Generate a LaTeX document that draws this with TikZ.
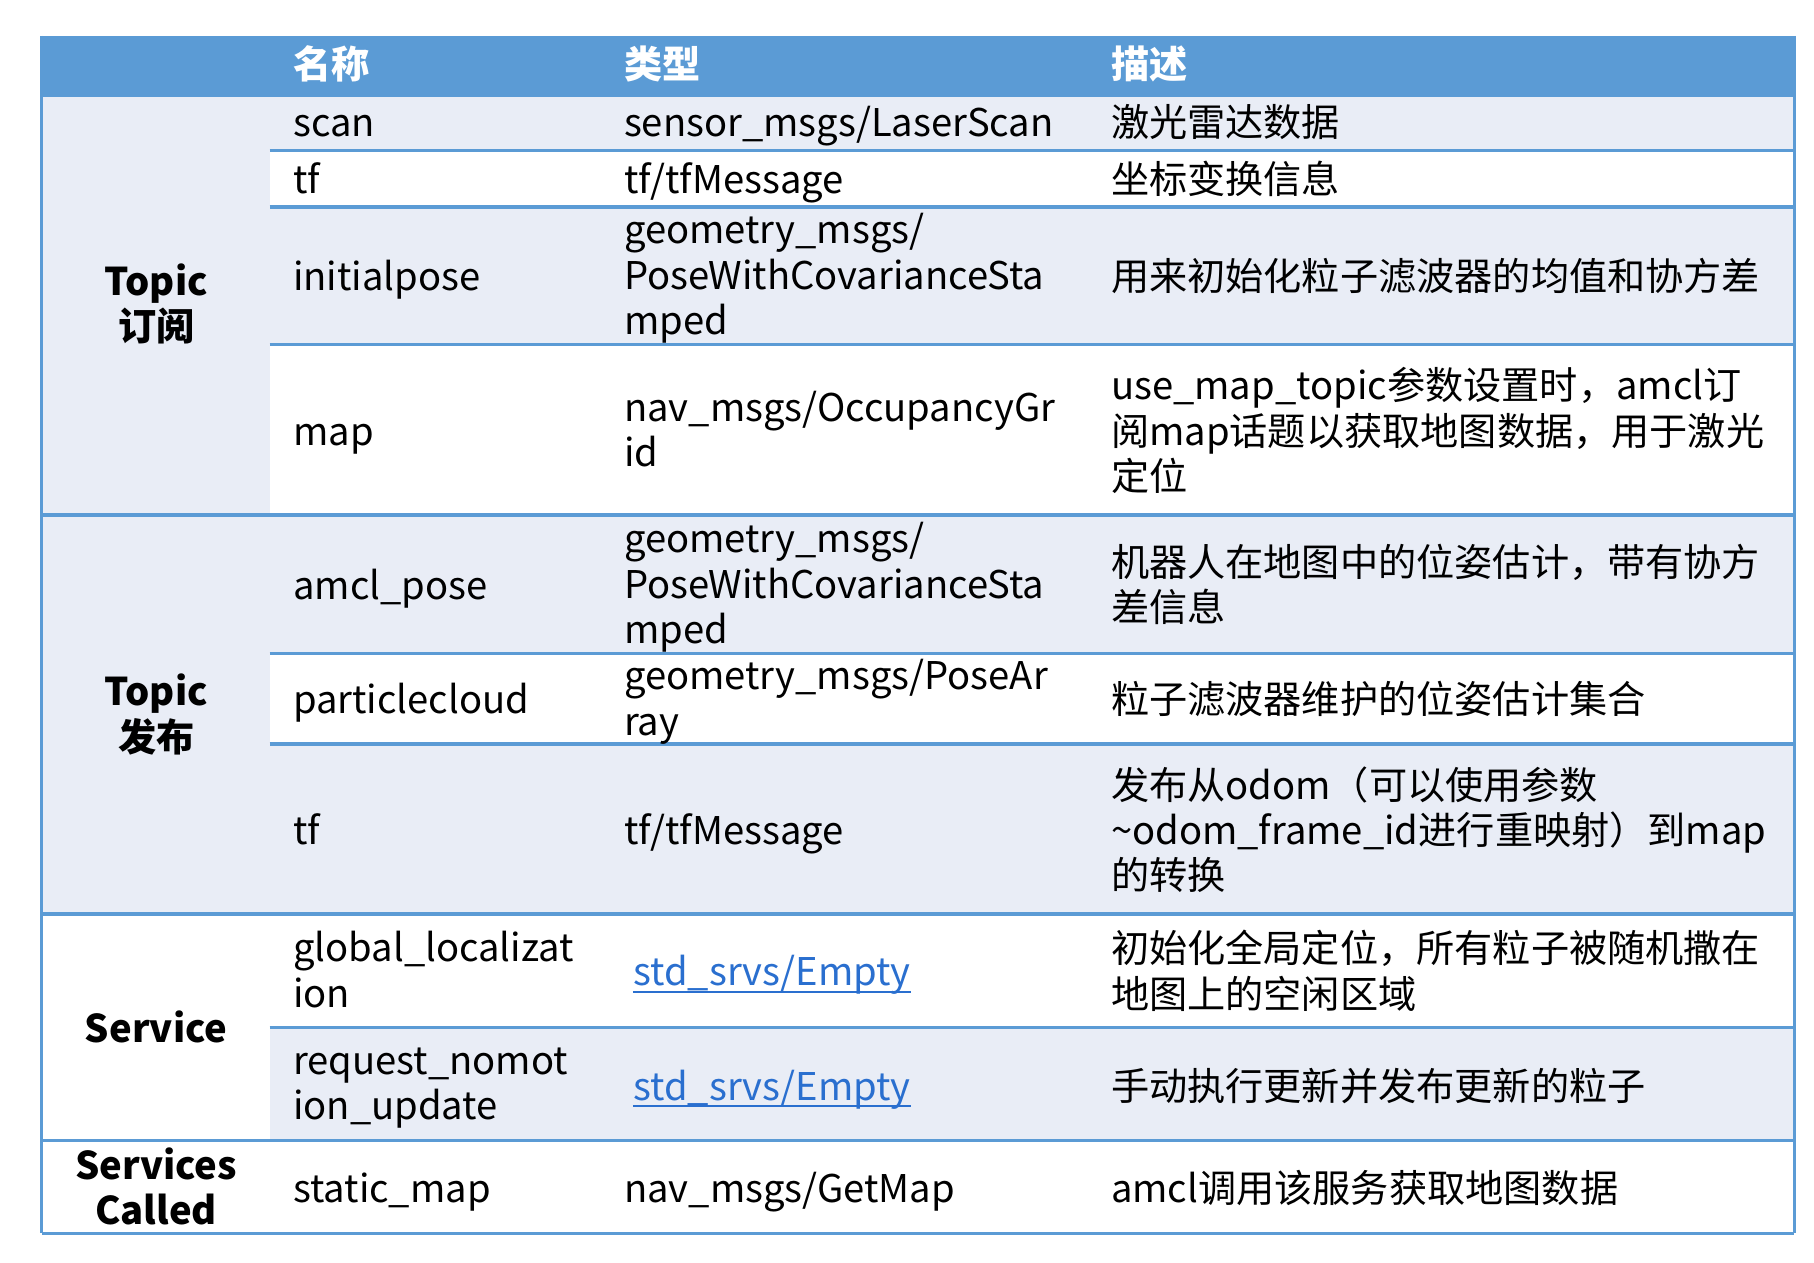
\documentclass[tikz,border=0pt]{standalone}
\usepackage{fontspec}
\setmainfont{Noto Sans CJK SC}
\definecolor{hdrblue}{HTML}{5B9BD5}
\definecolor{lineblue}{HTML}{5B9BD5}
\definecolor{band}{HTML}{E9EDF6}
\definecolor{linkblue}{HTML}{2A6FCF}
\newcommand{\fs}{\fontsize{16.5}{19.6}\selectfont}
\newcommand{\cjkstrut}{\vphantom{国/\_（gy}}
\tikzset{
  cell/.style={anchor=west, inner sep=0pt, align=left, font=\fs, text=black, yshift=-1.5pt,
    execute at begin node=\cjkstrut, execute at end node=\cjkstrut},
  hdr/.style={anchor=west, inner sep=0pt, font=\fs\bfseries, text=white},
  cat/.style={anchor=center, inner sep=0pt, align=center, font=\fs\bfseries, text=black, yshift=-1.5pt,
    execute at begin node=\cjkstrut, execute at end node=\cjkstrut},
  rule/.style={draw=lineblue, line width=1.5pt},
  lnk/.style={cell, text=linkblue},
  uline/.style={draw=linkblue, line width=0.9pt}
}
\begin{document}
\begin{tikzpicture}[x=0.5pt, y=-0.5pt]
\useasboundingbox (0,0) rectangle (1568,1091);
\fill[white] (0,0) rectangle (1568,1091);
% fills
\fill[hdrblue] (36,31) rectangle (1551,82);
\fill[band] (36,82) rectangle (233,790);
\fill[band] (233,82) rectangle (1551,130);
\fill[band] (233,179) rectangle (1551,298);
\fill[band] (233,445) rectangle (1551,565);
\fill[band] (233,643) rectangle (1551,790);
\fill[band] (233,888) rectangle (1551,986);
% inner rules
\foreach \y in {130,179,298,565,643,888}
  \draw[rule] (233,\y) -- (1551,\y);
% group rules
\foreach \y in {82,445,790,986,1066}
  \draw[rule] (36,\y) -- (1551,\y);
\draw[rule] (36,31) -- (36,1066);
\draw[rule] (1551,31) -- (1551,1066);
% header
\node[hdr] (h1) at (253,55) {名称};
\node[hdr] (h2) at (539,55) {类型};
\node[hdr] (h3) at (960,55) {描述};
% categories
\node[cat] (c1) at (135,262) {Topic\\订阅};
\node[cat] (c2) at (135,617) {Topic\\发布};
\node[cat] (c3) at (135,888) {Service};
\node[cat] (c4) at (135,1026) {Services\\Called};
% rows
\node[cell] (n1) at (253,105) {scan};
\node[cell] (t1) at (539,105) {sensor\_msgs/LaserScan};
\node[cell] (d1) at (960,105) {激光雷达数据};
\node[cell] (n2) at (253,154) {tf};
\node[cell] (t2) at (539,154) {tf/tfMessage};
\node[cell] (d2) at (960,154) {坐标变换信息};
\node[cell] (n3) at (253,238) {initialpose};
\node[cell] (t3) at (539,238) {geometry\_msgs/\\PoseWithCovarianceSta\\mped};
\node[cell] (d3) at (960,238) {用来初始化粒子滤波器的均值和协方差};
\node[cell] (n4) at (253,372) {map};
\node[cell] (t4) at (539,372) {nav\_msgs/OccupancyGr\\id};
\node[cell] (d4) at (960,372) {use\_map\_topic参数设置时，amcl订\\阅map话题以获取地图数据，用于激光\\定位};
\node[cell] (n5) at (253,505) {amcl\_pose};
\node[cell] (t5) at (539,505) {geometry\_msgs/\\PoseWithCovarianceSta\\mped};
\node[cell] (d5) at (960,505) {机器人在地图中的位姿估计，带有协方\\差信息};
\node[cell] (n6) at (253,604) {particlecloud};
\node[cell] (t6) at (539,604) {geometry\_msgs/PoseAr\\ray};
\node[cell] (d6) at (960,604) {粒子滤波器维护的位姿估计集合};
\node[cell] (n7) at (253,717) {tf};
\node[cell] (t7) at (539,717) {tf/tfMessage};
\node[cell] (d7) at (960,717) {发布从odom（可以使用参数\\\textasciitilde odom\_frame\_id进行重映射）到map\\的转换};
\node[cell] (n8) at (253,839) {global\_localizat\\ion};
\node[lnk] (t8) at (547,839) {std\_srvs/Empty};
\node[cell] (d8) at (960,839) {初始化全局定位，所有粒子被随机撒在\\地图上的空闲区域};
\node[cell] (n9) at (253,938) {request\_nomot\\ion\_update};
\node[lnk] (t9) at (547,938) {std\_srvs/Empty};
\node[cell] (d9) at (960,938) {手动执行更新并发布更新的粒子};
\node[cell] (n10) at (253,1026) {static\_map};
\node[cell] (t10) at (539,1026) {nav\_msgs/GetMap};
\node[cell] (d10) at (960,1026) {amcl调用该服务获取地图数据};
% link underlines
\draw[uline] ([yshift=-2.6pt]t8.base west) -- ([yshift=-2.6pt]t8.base east);
\draw[uline] ([yshift=-2.6pt]t9.base west) -- ([yshift=-2.6pt]t9.base east);
\end{tikzpicture}
\end{document}
